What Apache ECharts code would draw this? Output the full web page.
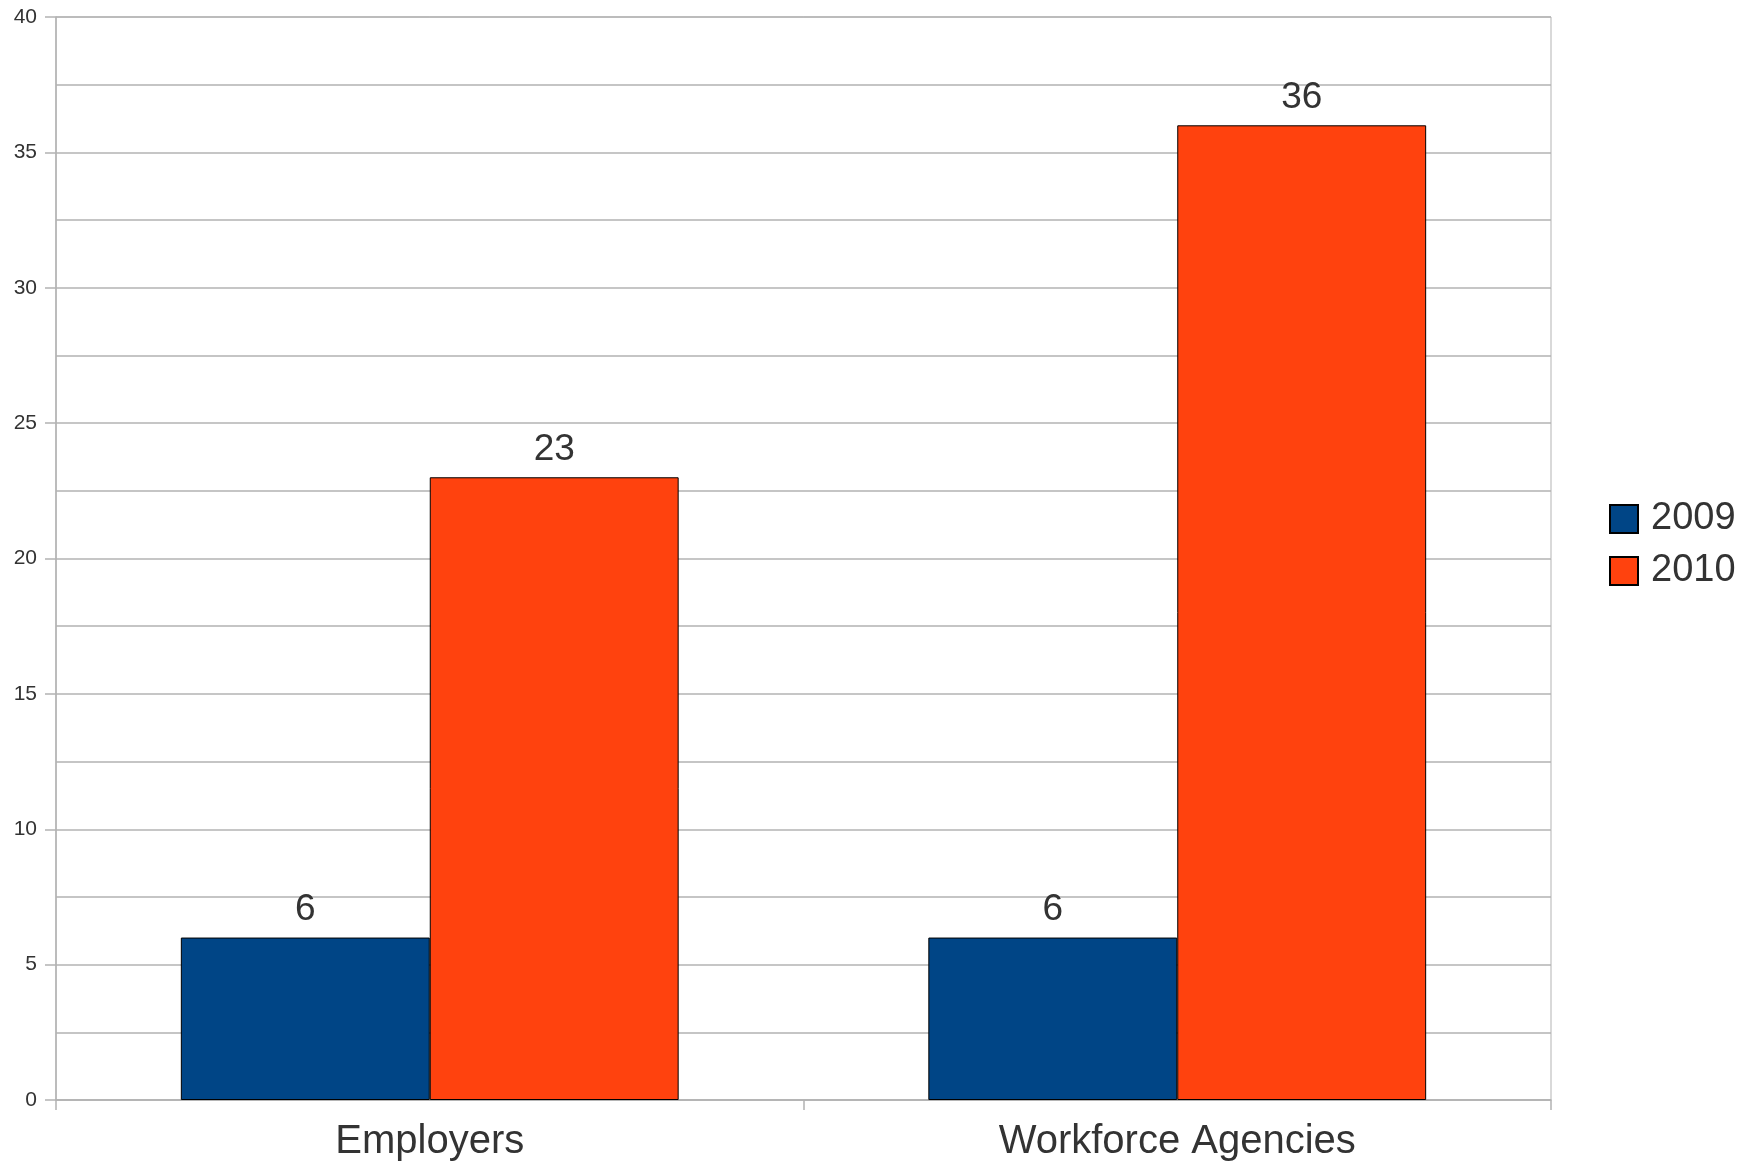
<!DOCTYPE html>
<html>
<head>
<meta charset="utf-8">
<script src="https://cdn.jsdelivr.net/npm/echarts@6/dist/echarts.min.js"></script>
<style>
	html, body { margin: 0; padding: 0; background: #fff; }
	#chart { width: 1754px; height: 1163px; }
</style>
</head>
<body>
<div id="chart"></div>
<script>
	const categories = ["Employers", "Workforce Agencies"];
	const seriesNames = ["2009", "2010"];
	const values2009 = [6, 6];
	const values2010 = [23, 36];
	const yTicks = [0, 5, 10, 15, 20, 25, 30, 35, 40];

	const chart = echarts.init(document.getElementById("chart"));

	const gridColor = "#b3b3b3";
	const font = "Liberation Sans, Arial, sans-serif";

	const barSeries = (name, data, color) => ({
		name,
		type: "bar",
		data,
		barGap: 0,
		barCategoryGap: "33.4%",
		itemStyle: { color, borderColor: "#000", borderWidth: 1 },
		label: {
			show: true,
			position: "top",
			distance: 9,
			fontFamily: font,
			fontSize: 37,
			color: "#333"
		}
	});

	chart.setOption({
		animation: false,
		grid: {
			left: 56,
			right: 203,
			top: 17,
			bottom: 63,
			show: true,
			borderColor: gridColor,
			borderWidth: 1,
			backgroundColor: "transparent"
		},
		legend: {
			orient: "vertical",
			left: 1609,
			top: 500,
			padding: 0,
			itemWidth: 28,
			itemHeight: 28,
			itemGap: 14,
			icon: "rect",
			textStyle: { fontFamily: font, fontSize: 38, color: "#333", padding: [0, 0, 0, 8] },
			data: seriesNames
		},
		xAxis: {
			type: "category",
			data: categories,
			axisLine: { lineStyle: { color: gridColor, width: 1.5 } },
			axisTick: { show: true, length: 10, lineStyle: { color: gridColor, width: 1.5 } },
			axisLabel: { fontFamily: font, fontSize: 40, color: "#333", margin: 22 }
		},
		yAxis: {
			type: "value",
			min: 0,
			max: 40,
			interval: 5,
			axisLine: { show: true, lineStyle: { color: gridColor, width: 1.5 } },
			axisTick: { show: true, length: 11, lineStyle: { color: gridColor, width: 1.5 } },
			axisLabel: {
				fontFamily: font,
				fontSize: 21,
				color: "#333",
				margin: 19,
				formatter: v => (yTicks.includes(v) ? String(v) : "")
			},
			splitLine: { show: true, lineStyle: { color: gridColor, width: 1.5 } },
			minorTick: { show: false, splitNumber: 2 },
			minorSplitLine: { show: true, lineStyle: { color: gridColor, width: 1.5 } }
		},
		series: [
			barSeries(seriesNames[0], values2009, "#004586"),
			barSeries(seriesNames[1], values2010, "#ff420e")
		]
	});
</script>
</body>
</html>
